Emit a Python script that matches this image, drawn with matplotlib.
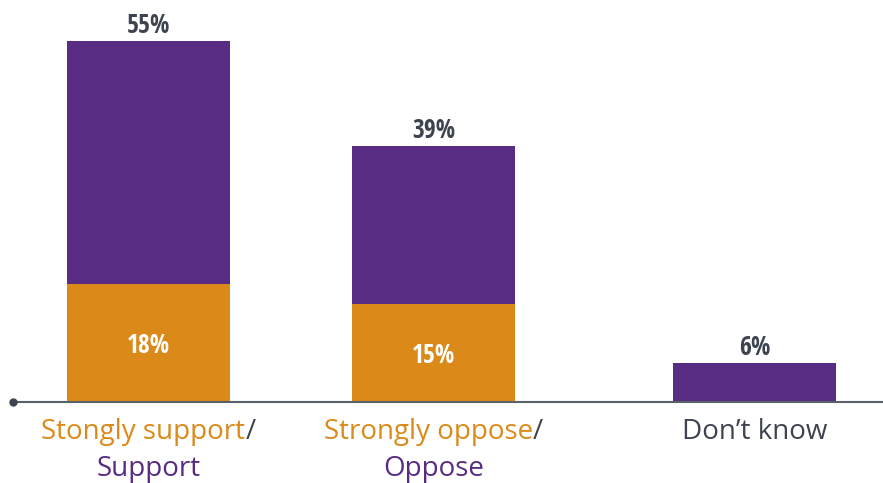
import matplotlib.pyplot as plt

# survey answers, percent of respondents
kategorier = ['Support', 'Oppose', "Don\u2019t know"]
totalt = [55, 39, 6]
sterkt = [18, 15, 0]

# label pieces: (strong part, general part)
sterk_tekst = ['Stongly support', 'Strongly oppose', None]
vanlig_tekst = ['Support', 'Oppose', "Don\u2019t know"]

ORANSJE = '#DB8A19'
LILLA = '#582C83'
GRAA = '#3D4450'

# bar centres (uneven spacing)
xpos = [0, 1, 2.126]
bredde = 0.572

fig = plt.figure(figsize=(8.83, 4.83), dpi=100)
ax = fig.add_axes([13/883, 81/483, 870/883, 402/483])
ax.set_xlim(-0.475, 2.577)
ax.set_ylim(0, 61.25)
ax.axis('off')

resten = [t - s for t, s in zip(totalt, sterkt)]
ax.bar(xpos, sterkt, width=bredde, color=ORANSJE, zorder=2)
ax.bar(xpos, resten, width=bredde, bottom=sterkt, color=LILLA, zorder=2)

# condensed bold face for the percentages
fet = dict(family='Open Sans Condensed', weight='bold', fontsize=18.5)

for x, t, s in zip(xpos, totalt, sterkt):
    ax.annotate(f'{t}%', (x, t), xytext=(0, 5.8), textcoords='offset points',
                ha='center', va='baseline', color=GRAA, **fet)
    if s > 0:
        ax.annotate(f'{s}%', (x, s / 2), xytext=(0, -7.4), textcoords='offset points',
                    ha='center', va='baseline', color='white', **fet)

# baseline with dot at left end
ax.plot([-0.475, 2.577], [0, 0], color='#5A606A', lw=1.5, clip_on=False, zorder=3)
ax.plot([-0.475], [0], 'o', color=GRAA, ms=5, clip_on=False, zorder=4)

xt = ax.get_xaxis_transform()
vanlig = dict(family='Open Sans', fontsize=20)
for x, st, vt in zip(xpos, sterk_tekst, vanlig_tekst):
    if st is None:
        ax.text(x, -0.075, vt, transform=xt, ha='center', va='center',
                color=GRAA, **vanlig)
        continue
    hel = ax.text(x, -0.075, st + '/', transform=xt, ha='center', va='center',
                  color='white', alpha=0, **vanlig)
    ax.annotate(st, xy=(0, 0), xycoords=hel, ha='left', va='bottom',
                color=ORANSJE, **vanlig)
    ax.annotate('/', xy=(1, 0), xycoords=hel, ha='right', va='bottom',
                color=GRAA, **vanlig)
    ax.text(x, -0.167, vt, transform=xt, ha='center', va='center',
            color=LILLA, **vanlig)

fig.savefig('out.png', dpi=100)
